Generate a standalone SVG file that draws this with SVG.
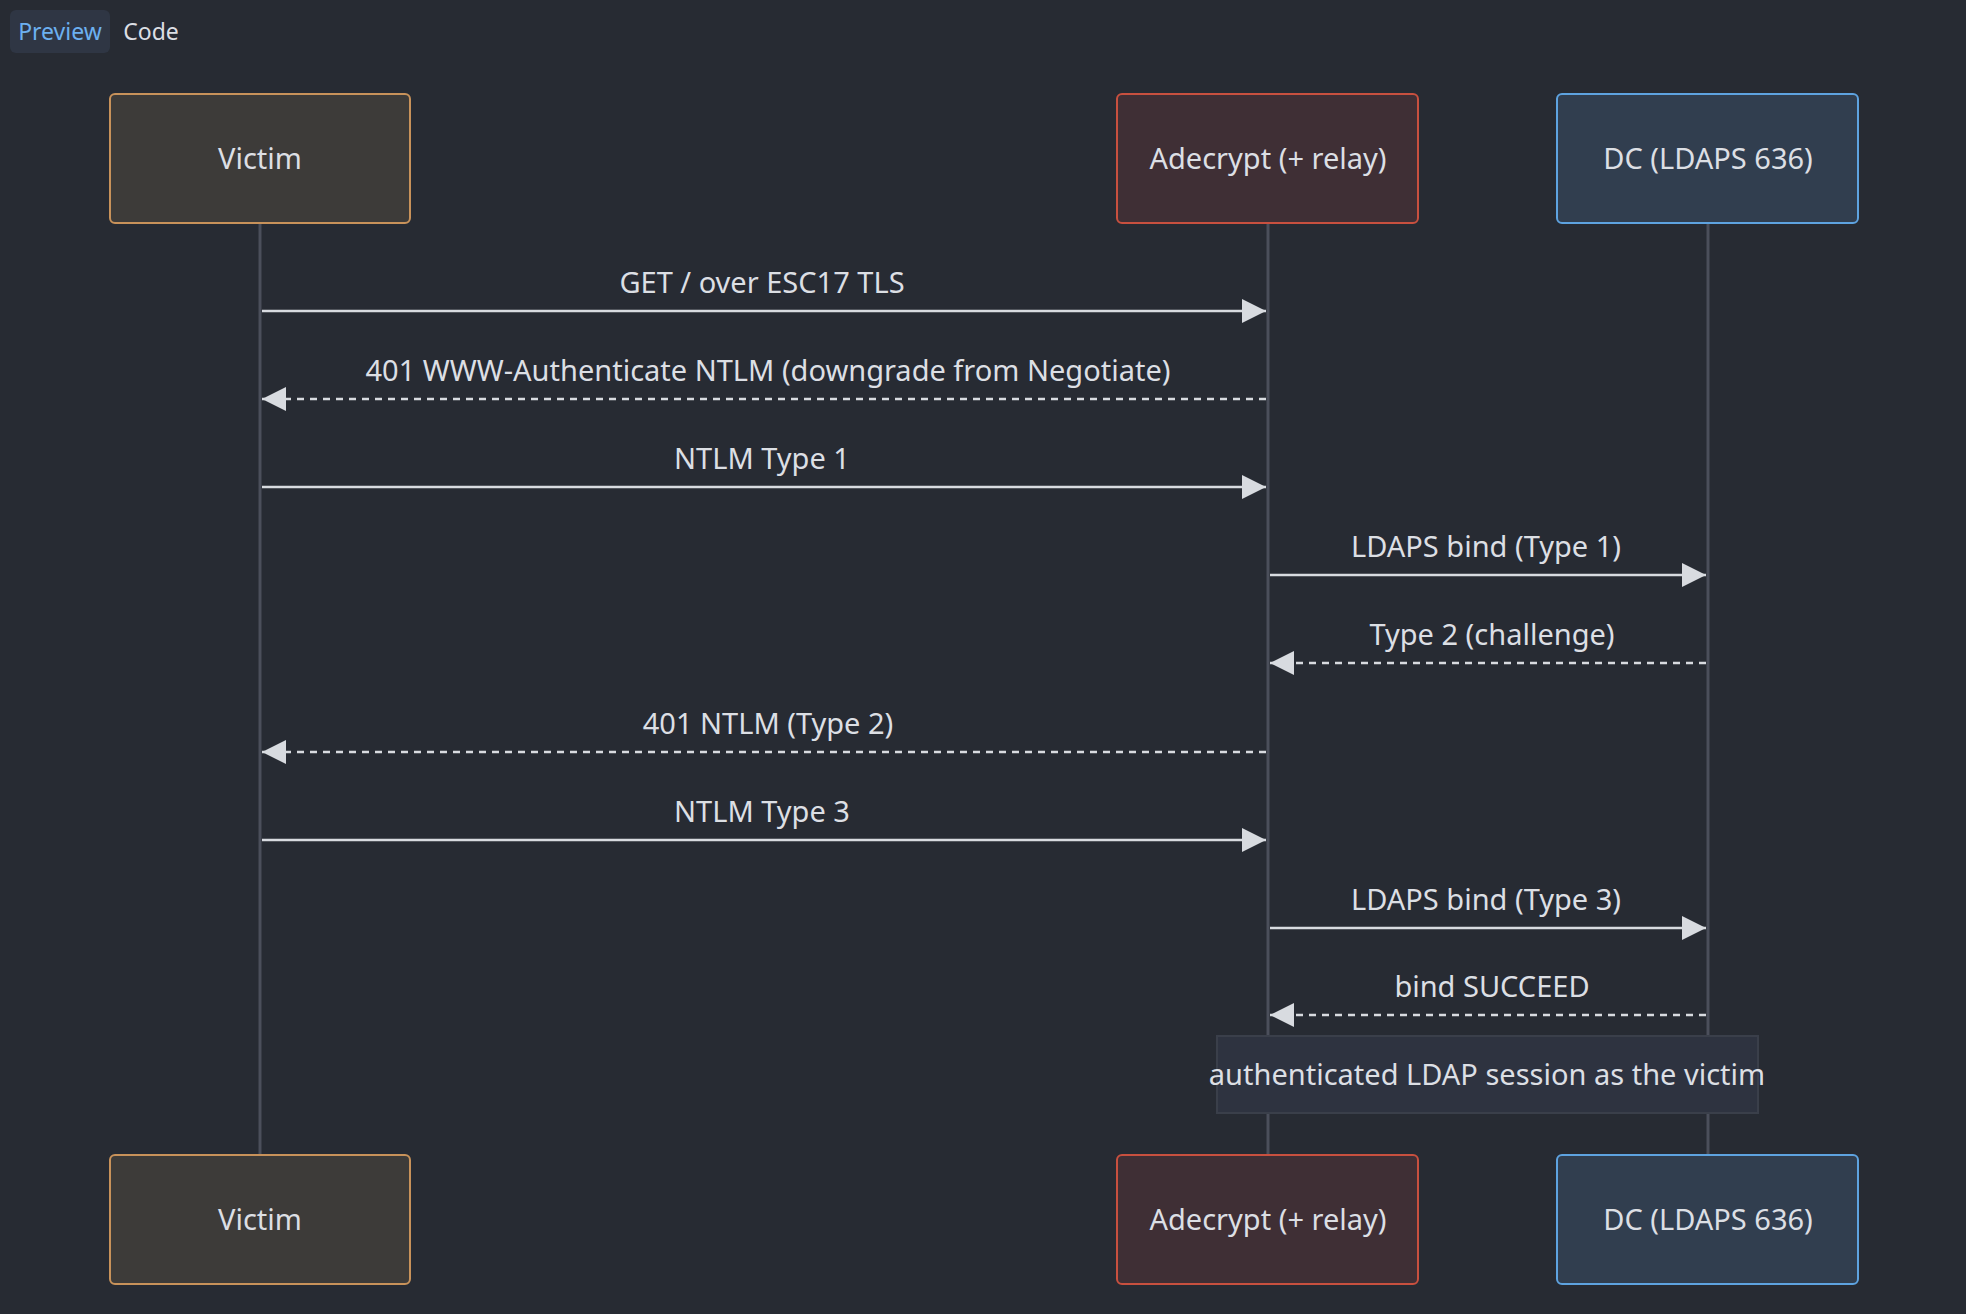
<svg xmlns="http://www.w3.org/2000/svg" width="1966" height="1314" viewBox="0 0 1966 1314">
<style>
text{font-family:"Noto Sans","Open Sans",sans-serif;fill:#dcdfe4}
.lbl{font-size:29px;text-anchor:middle}
.life{stroke:#4b4f5b;stroke-width:3}
.msg{stroke:#d8dbe0;stroke-width:2.5;fill:none}
.dash{stroke-dasharray:7 6}
.v{fill:#3d3b39;stroke:#c8925a;stroke-width:2}
.a{fill:#3f2f35;stroke:#c8503f;stroke-width:2}
.d{fill:#313e4f;stroke:#5ea3e0;stroke-width:2}
</style>
<defs>
<marker id="ah" viewBox="0 0 10 10" refX="10" refY="5" markerWidth="24" markerHeight="24" markerUnits="userSpaceOnUse" orient="auto"><path d="M0,0L10,5L0,10z" fill="#d8dbe0"/></marker>
</defs>
<rect width="1966" height="1314" fill="#272b33"/>
<rect x="10" y="10" width="100" height="43" rx="6" fill="#2f3644"/>
<text x="60" y="40" font-size="23" text-anchor="middle" style="fill:#6cb0f0">Preview</text>
<text x="151" y="40" font-size="23" text-anchor="middle">Code</text>
<g id="lifelines">
<line class="life" x1="260" y1="224" x2="260" y2="1155"/>
<line class="life" x1="1268" y1="224" x2="1268" y2="1155"/>
<line class="life" x1="1708" y1="224" x2="1708" y2="1155"/>
</g>
<g id="connectors">
<line class="msg" x1="262" y1="311" x2="1266" y2="311" marker-end="url(#ah)"/>
<text class="lbl" x="762" y="293">GET / over ESC17 TLS</text>
<line class="msg dash" x1="1266" y1="399" x2="262" y2="399" marker-end="url(#ah)"/>
<text class="lbl" x="768" y="381">401 WWW-Authenticate NTLM (downgrade from Negotiate)</text>
<line class="msg" x1="262" y1="487" x2="1266" y2="487" marker-end="url(#ah)"/>
<text class="lbl" x="762" y="469">NTLM Type 1</text>
<line class="msg" x1="1270" y1="575" x2="1706" y2="575" marker-end="url(#ah)"/>
<text class="lbl" x="1486" y="557">LDAPS bind (Type 1)</text>
<line class="msg dash" x1="1706" y1="663" x2="1270" y2="663" marker-end="url(#ah)"/>
<text class="lbl" x="1492" y="645">Type 2 (challenge)</text>
<line class="msg dash" x1="1266" y1="752" x2="262" y2="752" marker-end="url(#ah)"/>
<text class="lbl" x="768" y="734">401 NTLM (Type 2)</text>
<line class="msg" x1="262" y1="840" x2="1266" y2="840" marker-end="url(#ah)"/>
<text class="lbl" x="762" y="822">NTLM Type 3</text>
<line class="msg" x1="1270" y1="928" x2="1706" y2="928" marker-end="url(#ah)"/>
<text class="lbl" x="1486" y="910">LDAPS bind (Type 3)</text>
<line class="msg dash" x1="1706" y1="1015" x2="1270" y2="1015" marker-end="url(#ah)"/>
<text class="lbl" x="1492" y="997">bind SUCCEED</text>
</g>
<g id="note">
<rect x="1217" y="1036" width="541" height="77" fill="#2e3340" stroke="#3a3f4a" stroke-width="2"/>
<text class="lbl" x="1487" y="1085">authenticated LDAP session as the victim</text>
</g>
<g id="victim-top"><rect class="v" x="110" y="94" width="300" height="129" rx="5"/><text class="lbl" x="260" y="169">Victim</text></g>
<g id="adecrypt-top"><rect class="a" x="1117" y="94" width="301" height="129" rx="5"/><text class="lbl" x="1268" y="169">Adecrypt (+ relay)</text></g>
<g id="dc-top"><rect class="d" x="1557" y="94" width="301" height="129" rx="5"/><text class="lbl" x="1708" y="169">DC (LDAPS 636)</text></g>
<g id="victim-bottom"><rect class="v" x="110" y="1155" width="300" height="129" rx="5"/><text class="lbl" x="260" y="1230">Victim</text></g>
<g id="adecrypt-bottom"><rect class="a" x="1117" y="1155" width="301" height="129" rx="5"/><text class="lbl" x="1268" y="1230">Adecrypt (+ relay)</text></g>
<g id="dc-bottom"><rect class="d" x="1557" y="1155" width="301" height="129" rx="5"/><text class="lbl" x="1708" y="1230">DC (LDAPS 636)</text></g>
</svg>
